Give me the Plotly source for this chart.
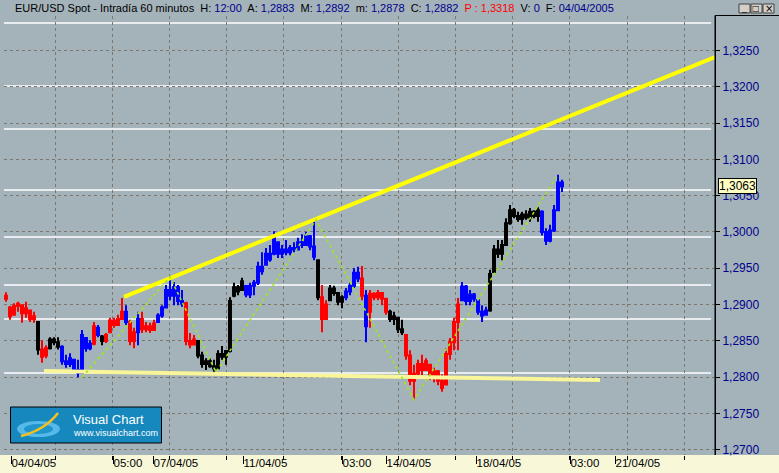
import plotly.graph_objects as go

# ---------------- data (hourly-ish bars, EUR/USD) ----------------
opens = [1.2908, 1.2896, 1.2886, 1.2898, 1.2899, 1.2888, 1.2892, 1.2880, 1.2876, 1.2838,
         1.2830, 1.2840, 1.2852, 1.2848, 1.2842, 1.2822, 1.2818, 1.2824, 1.2810, 1.2806,
         1.2854, 1.2840, 1.2846, 1.2868, 1.2856, 1.2850, 1.2862, 1.2878, 1.2872, 1.2880,
         1.2890, 1.2876, 1.2850, 1.2862, 1.2880, 1.2866, 1.2870, 1.2865, 1.2876, 1.2885,
         1.2896, 1.2920, 1.2912, 1.2924, 1.2905, 1.2902, 1.2850, 1.2845, 1.2850, 1.2830,
         1.2818, 1.2822, 1.2815, 1.2812, 1.2832, 1.2828, 1.2836, 1.2912, 1.2924, 1.2920,
         1.2926, 1.2914, 1.2926, 1.2930, 1.2952, 1.2955, 1.2970, 1.2970, 1.2986, 1.2970,
         1.2976, 1.2972, 1.2978, 1.2976, 1.2986, 1.2982, 1.2994, 1.2980, 1.2961, 1.2910,
         1.2880, 1.2906, 1.2922, 1.2916, 1.2904, 1.2910, 1.2918, 1.2926, 1.2944, 1.2936,
         1.2912, 1.2890, 1.2915, 1.2910, 1.2916, 1.2908, 1.2890, 1.2880, 1.2882, 1.2866,
         1.2858, 1.2830, 1.2795, 1.2805, 1.2818, 1.2810, 1.2817, 1.2800, 1.2808, 1.2795,
         1.2790, 1.2832, 1.2848, 1.2876, 1.2906, 1.2925, 1.2905, 1.2914, 1.2906, 1.2890,
         1.2886, 1.2892, 1.2945, 1.2976, 1.2970, 1.2982, 1.3012, 1.3030, 1.3022, 1.3018,
         1.3024, 1.3020, 1.3028, 1.3022, 1.3028, 1.3000, 1.2988, 1.3002, 1.3030, 1.3068]
highs = [1.2917, 1.2898, 1.2902, 1.2904, 1.2899, 1.2904, 1.2893, 1.2890, 1.2876, 1.2851,
         1.2844, 1.2855, 1.2855, 1.2855, 1.2844, 1.2831, 1.2833, 1.2824, 1.2824, 1.2865,
         1.2854, 1.2851, 1.2876, 1.2872, 1.2858, 1.2861, 1.2882, 1.2882, 1.2886, 1.2909,
         1.2899, 1.2879, 1.2868, 1.2890, 1.2890, 1.2876, 1.2875, 1.2879, 1.2888, 1.2899,
         1.2927, 1.2938, 1.2931, 1.2927, 1.2920, 1.2904, 1.2861, 1.2858, 1.2851, 1.2835,
         1.2826, 1.2826, 1.2824, 1.2837, 1.2843, 1.2837, 1.2910, 1.2930, 1.2927, 1.2937,
         1.2927, 1.2930, 1.2934, 1.2959, 1.2972, 1.2978, 1.2982, 1.3001, 1.2986, 1.2982,
         1.2989, 1.2982, 1.2986, 1.2992, 1.2997, 1.3000, 1.2996, 1.3017, 1.2961, 1.2927,
         1.2906, 1.2927, 1.2926, 1.2917, 1.2913, 1.2923, 1.2931, 1.2950, 1.2952, 1.2953,
         1.2920, 1.2920, 1.2917, 1.2920, 1.2917, 1.2909, 1.2893, 1.2890, 1.2882, 1.2879,
         1.2858, 1.2837, 1.2817, 1.2824, 1.2831, 1.2826, 1.2817, 1.2813, 1.2810, 1.2804,
         1.2840, 1.2854, 1.2882, 1.2909, 1.2931, 1.2927, 1.2920, 1.2916, 1.2906, 1.2899,
         1.2897, 1.2948, 1.2982, 1.2989, 1.2989, 1.3019, 1.3037, 1.3033, 1.3028, 1.3028,
         1.3030, 1.3033, 1.3030, 1.3034, 1.3030, 1.3005, 1.3010, 1.3037, 1.3079, 1.3072]
lows = [1.2904, 1.2879, 1.2886, 1.2890, 1.2875, 1.2882, 1.2876, 1.2875, 1.2831, 1.2820,
        1.2826, 1.2838, 1.2844, 1.2838, 1.2817, 1.2813, 1.2814, 1.2807, 1.2800, 1.2806,
        1.2835, 1.2837, 1.2844, 1.2855, 1.2844, 1.2847, 1.2861, 1.2868, 1.2872, 1.2879,
        1.2872, 1.2844, 1.2840, 1.2844, 1.2861, 1.2862, 1.2861, 1.2865, 1.2875, 1.2882,
        1.2895, 1.2906, 1.2899, 1.2899, 1.2897, 1.2844, 1.2840, 1.2844, 1.2826, 1.2813,
        1.2810, 1.2813, 1.2807, 1.2812, 1.2824, 1.2817, 1.2834, 1.2910, 1.2913, 1.2920,
        1.2910, 1.2909, 1.2913, 1.2927, 1.2941, 1.2955, 1.2959, 1.2968, 1.2964, 1.2964,
        1.2968, 1.2968, 1.2972, 1.2975, 1.2978, 1.2982, 1.2975, 1.2961, 1.2906, 1.2862,
        1.2879, 1.2906, 1.2912, 1.2899, 1.2895, 1.2906, 1.2913, 1.2923, 1.2931, 1.2906,
        1.2848, 1.2868, 1.2906, 1.2906, 1.2899, 1.2886, 1.2876, 1.2872, 1.2861, 1.2858,
        1.2824, 1.2789, 1.2769, 1.2799, 1.2803, 1.2810, 1.2796, 1.2793, 1.2789, 1.2780,
        1.2789, 1.2824, 1.2837, 1.2837, 1.2906, 1.2899, 1.2899, 1.2904, 1.2886, 1.2876,
        1.2886, 1.2890, 1.2945, 1.2964, 1.2961, 1.2982, 1.3010, 1.3019, 1.3014, 1.3010,
        1.3017, 1.3014, 1.3019, 1.3014, 1.2995, 1.2982, 1.2986, 1.3000, 1.3030, 1.3055]
closes = [1.2912, 1.2884, 1.2898, 1.2901, 1.2888, 1.2895, 1.2880, 1.2884, 1.2838, 1.2828,
          1.2840, 1.2852, 1.2848, 1.2842, 1.2822, 1.2818, 1.2826, 1.2810, 1.2806, 1.2858,
          1.2840, 1.2846, 1.2870, 1.2858, 1.2850, 1.2858, 1.2878, 1.2872, 1.2880, 1.2890,
          1.2876, 1.2850, 1.2862, 1.2880, 1.2866, 1.2870, 1.2865, 1.2874, 1.2885, 1.2896,
          1.2920, 1.2912, 1.2924, 1.2905, 1.2902, 1.2850, 1.2845, 1.2852, 1.2830, 1.2818,
          1.2822, 1.2815, 1.2812, 1.2832, 1.2828, 1.2836, 1.2905, 1.2924, 1.2918, 1.2932,
          1.2914, 1.2926, 1.2930, 1.2952, 1.2946, 1.2970, 1.2962, 1.2992, 1.2970, 1.2976,
          1.2972, 1.2978, 1.2976, 1.2986, 1.2982, 1.2994, 1.2980, 1.2966, 1.2910, 1.2880,
          1.2900, 1.2922, 1.2916, 1.2904, 1.2910, 1.2918, 1.2926, 1.2944, 1.2936, 1.2912,
          1.2870, 1.2915, 1.2910, 1.2916, 1.2908, 1.2890, 1.2880, 1.2884, 1.2866, 1.2862,
          1.2830, 1.2795, 1.2805, 1.2818, 1.2810, 1.2822, 1.2800, 1.2808, 1.2795, 1.2785,
          1.2832, 1.2848, 1.2876, 1.2900, 1.2925, 1.2905, 1.2914, 1.2908, 1.2890, 1.2885,
          1.2892, 1.2942, 1.2976, 1.2970, 1.2982, 1.3012, 1.3030, 1.3022, 1.3018, 1.3024,
          1.3020, 1.3028, 1.3022, 1.3030, 1.3000, 1.2988, 1.3002, 1.3030, 1.3068, 1.3063]
bar_colors = list("RRRRRRRR" "K" "RR" "KKK" "BBBBBB" "BB" "R" "B" "K" "R" "RRRR" "B" "RR" "B"
                  "RRRR" "BBBBBBB" "R" "RR" "KKKKKKKK" "KKKK" "BBB" "BBBBBBBBBBBBBBB" "K" "RR"
                  "KKKK" "BBBB" "R" "B" "RRRRR" "KKKK" "RRRRRRRRRRRRRR" "BBBBBBB"
                  "KKKKKKKKKKKKK" "BBBBBB")

# x tick labels (bar index positions)
tick_pos = [1.25, 26.75, 36.75, 59.25, 84, 95, 117.5, 141, 152.25]
tick_text = ["04/04/05", "05:00", "07/04/05", "11/04/05", "03:00", "14/04/05",
             "18/04/05", "03:00", "21/04/05"]

# drawn studies
trend_x = [29.5, 177.25]
trend_y = [1.29105, 1.32410]
support_x = [9.5, 148.5]
support_y = [1.28085, 1.27961]
zigzag_x = [19, 41, 52.5, 77.5, 102, 138]
zigzag_y = [1.2800, 1.2938, 1.2807, 1.3017, 1.2769, 1.3079]
level_prices = [1.32879, 1.3201, 1.31419, 1.30579, 1.29931, 1.2927, 1.28802, 1.28058]
last_price = 1.3063

# ---------------- styling ----------------
BG = "#a4b2ba"
BAND = "#f8f8d8"
GRID = "#7d766c"
FONT = "Liberation Sans"
palette = {"R": ("#ff0000", "#000000"), "B": ("#0000ff", "#000070"), "K": ("#000000", "#000000")}

fig = go.Figure()
n = len(closes)
for code, (lc, fc) in palette.items():
    idx = [i for i in range(n) if bar_colors[i] == code]
    fig.add_trace(go.Candlestick(
        x=idx, open=[opens[i] for i in idx], high=[highs[i] for i in idx],
        low=[lows[i] for i in idx], close=[closes[i] for i in idx],
        increasing=dict(line=dict(color=lc, width=2), fillcolor=fc),
        decreasing=dict(line=dict(color=lc, width=2), fillcolor=fc),
        whiskerwidth=0, hoverinfo="skip", showlegend=False))

fig.add_trace(go.Scatter(x=support_x, y=support_y, mode="lines",
                         line=dict(color="#f8f59a", width=4), hoverinfo="skip"))
fig.add_trace(go.Scatter(x=trend_x, y=trend_y, mode="lines",
                         line=dict(color="#ffff00", width=4), hoverinfo="skip"))
fig.add_trace(go.Scatter(x=zigzag_x, y=zigzag_y, mode="lines",
                         line=dict(color="#9ee81a", width=1.6, dash="dot"), hoverinfo="skip"))

shapes = []
for p in level_prices:
    shapes.append(dict(type="line", xref="paper", yref="y", x0=0.0, x1=0.9945, y0=p, y1=p,
                       line=dict(color="white", width=1.5), layer="between"))

# plot area in px: x 4..715 (711 wide), y 16..455 (439 high)
def px(x):
    return (x - 4) / 711.0

def py(y):
    return (455 - y) / 439.0

# bottom band
shapes.append(dict(type="rect", xref="paper", yref="paper", x0=px(-2), x1=px(781),
                   y0=py(475), y1=py(455), fillcolor=BAND, line=dict(width=0), layer="below"))
# right panel top border
shapes.append(dict(type="line", xref="paper", yref="paper", x0=px(715), x1=px(781),
                   y0=py(15.5), y1=py(15.5), line=dict(color="black", width=1)))
shapes.append(dict(type="line", xref="paper", yref="paper", x0=px(715), x1=px(715),
                   y0=py(15.5), y1=py(455), line=dict(color="black", width=1)))
# logo
shapes.append(dict(type="rect", xref="paper", yref="paper", x0=px(10.5), x1=px(161.5),
                   y0=py(443), y1=py(407), fillcolor="#1788bd", line=dict(color="black", width=1)))
shapes.append(dict(type="circle", xref="paper", yref="paper", x0=px(17), x1=px(60),
                   y0=py(437), y1=py(421), fillcolor="#55b9ea", line=dict(width=0)))
shapes.append(dict(type="circle", xref="paper", yref="paper", x0=px(24), x1=px(53),
                   y0=py(434), y1=py(424), fillcolor="#1f95cc", line=dict(width=0)))
shapes.append(dict(type="path", xref="paper", yref="paper",
                   path="M %f,%f Q %f,%f %f,%f" % (px(21), py(436), px(45), py(430), px(58), py(413)),
                   line=dict(color="#f4c020", width=2.5)))
# window buttons
for bx in (739, 751, 763):
    shapes.append(dict(type="rect", xref="paper", yref="paper", x0=px(bx), x1=px(bx + 11),
                       y0=py(13), y1=py(4), fillcolor="#d4d0c8",
                       line=dict(color="#404040", width=1)))

blue = "#00008c"
title = ("EUR/USD Spot - Intradía 60 minutos\u00a0 H: <span style='color:%s'>12:00</span>"
         "\u00a0 A: <span style='color:%s'>1,2883</span>\u00a0 M: <span style='color:%s'>1,2892</span>"
         "\u00a0 m: <span style='color:%s'>1,2878</span>\u00a0 C: <span style='color:%s'>1,2882</span>"
         "\u00a0 <span style='color:#ff0000'>P : 1,3318</span>\u00a0 V: <span style='color:%s'>0</span>"
         "\u00a0 F: <span style='color:%s'>04/04/2005</span>") % ((blue,) * 7)

annotations = [
    dict(xref="paper", yref="paper", x=px(13), y=py(8), xanchor="left", yanchor="middle",
         text=title, showarrow=False, font=dict(family=FONT, size=11, color="black")),
    dict(xref="paper", yref="y", x=px(718), y=last_price, xanchor="left", yanchor="middle",
         text="1,3063", showarrow=False, bgcolor="#ffffc4", bordercolor="black", borderwidth=1,
         borderpad=0, font=dict(family=FONT, size=12, color="black")),
    dict(xref="paper", yref="paper", x=px(71), y=py(419), xanchor="left", yanchor="middle",
         text="Visual Chart", showarrow=False, font=dict(family=FONT, size=13, color="white")),
    dict(xref="paper", yref="paper", x=px(71), y=py(433), xanchor="left", yanchor="middle",
         text="www.visualchart.com", showarrow=False, font=dict(family=FONT, size=9, color="white")),
    dict(xref="paper", yref="paper", x=px(744.5), y=py(8), xanchor="center", yanchor="middle",
         text="_", showarrow=False, font=dict(family=FONT, size=9, color="black")),
    dict(xref="paper", yref="paper", x=px(756.5), y=py(8.5), xanchor="center", yanchor="middle",
         text="\u25a1", showarrow=False, font=dict(family="DejaVu Sans", size=8, color="black")),
    dict(xref="paper", yref="paper", x=px(768.5), y=py(8.5), xanchor="center", yanchor="middle",
         text="\u00d7", showarrow=False, font=dict(family="DejaVu Sans", size=10, color="black")),
]

fig.update_layout(
    width=779, height=473, autosize=False,
    margin=dict(l=4, r=64, t=16, b=18, pad=0, autoexpand=False),
    paper_bgcolor=BG, plot_bgcolor=BG, showlegend=False, separators=",.",
    shapes=shapes, annotations=annotations,
    xaxis=dict(range=[-0.5, 177.25], tickmode="array", tickvals=tick_pos, ticktext=tick_text,
               ticks="outside", ticklen=8, tickcolor="black", tickwidth=1, showgrid=False,
               tickangle=0, automargin=False,
               ticklabelposition="outside right", ticklabelstandoff=-3,
               tickfont=dict(family=FONT, size=11.5, color="black"),
               minor=dict(tick0=12.25, dtick=14.3, ticks="outside", ticklen=4, tickcolor="black",
                          showgrid=True, gridcolor=GRID, griddash="dot", gridwidth=1),
               rangeslider=dict(visible=False), showline=False, zeroline=False, fixedrange=True),
    yaxis=dict(side="right", range=[1.26928, 1.32975], tick0=1.27, dtick=0.005,
               tickformat=".4f", ticks="outside", ticklen=4, tickcolor="black", automargin=False,
               showline=True, linecolor="black", linewidth=1, showgrid=True, gridcolor=GRID,
               griddash="dot", gridwidth=1, zeroline=False, fixedrange=True,
               tickfont=dict(family=FONT, size=12, color=blue)),
)

fig.write_html("out.html", config={"displayModeBar": False},
               post_script="document.body.style.margin='0';document.body.style.overflow='hidden';")
